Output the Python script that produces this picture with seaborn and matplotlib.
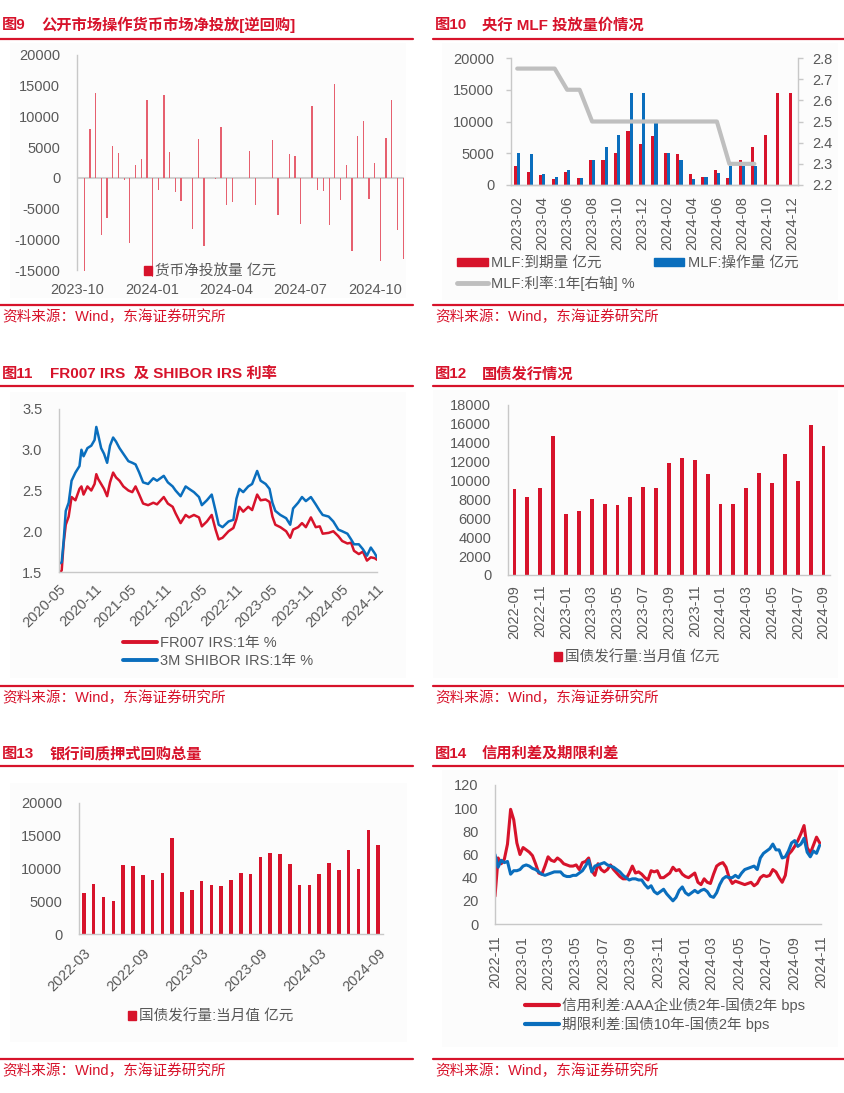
import numpy as np
import pandas as pd
import matplotlib
matplotlib.use('Agg')
import matplotlib.pyplot as plt
import matplotlib.dates as mdates
from matplotlib.lines import Line2D
from matplotlib.patches import Patch, Rectangle
from matplotlib.ticker import StrMethodFormatter
import seaborn as sns

# ---------------- data ----------------
# 图9 weekly net injection (亿元)
omo_start = '2023-10-10'
omo_net = [-15200, 7930, 13750, -9240, -6470, 5160, 4080, -330, -10600, 2070,
           3100, 12660, -16200, -1900, 13480, 4130, -2280, -3750, 0, -8320,
           6360, -11030, -50, -200, 8260, -4460, -3910, 0, 0, 4400,
           -4460, 0, 0, 6090, -6090, 0, 3910, 3530, -7450, 0,
           11740, -2010, -2120, -7720, 15220, -3530, 2070, -11960, 6800, 9240,
           -3480, 2340, -13590, 6470, 12610, -8530, -13150]

# 图10 MLF
mlf_months = pd.period_range('2023-02', '2024-12', freq='M').strftime('%Y-%m').tolist()
mlf_due = [3000, 2000, 1500, 1000, 2000, 1030, 4000, 4000, 5000, 8500, 6500, 7790,
           4990, 4810, 1700, 1250, 2370, 1030, 4010, 5910, 7890, 14500, 14500]
mlf_op = [5000, 4810, 1700, 1250, 2370, 1030, 4010, 5910, 7890, 14500, 14500, 9950,
          5000, 3870, 1000, 1250, 1820, 3000, 3000, 3000, np.nan, np.nan, np.nan]
mlf_rate = [2.75, 2.75, 2.75, 2.75, 2.65, 2.65, 2.50, 2.50, 2.50, 2.50, 2.50, 2.50,
            2.50, 2.50, 2.50, 2.50, 2.50, 2.30, 2.30, 2.30]

# 图11 IRS
irs_dates = ['2020-05-01', '2020-05-15', '2020-05-25', '2020-06-05', '2020-06-20', '2020-07-05',
             '2020-07-25', '2020-08-15', '2020-08-25', '2020-09-05', '2020-09-25', '2020-10-15',
             '2020-11-01', '2020-11-10', '2020-11-20', '2020-12-05', '2020-12-20', '2021-01-05',
             '2021-01-20', '2021-02-05', '2021-02-20', '2021-03-10', '2021-03-30', '2021-04-25',
             '2021-05-15', '2021-06-01', '2021-06-20', '2021-07-10', '2021-08-05', '2021-09-01',
             '2021-09-20', '2021-10-25', '2021-11-15', '2021-12-10', '2021-12-25', '2022-01-20',
             '2022-02-15', '2022-03-05', '2022-03-30', '2022-04-25', '2022-05-10', '2022-06-05',
             '2022-06-30', '2022-07-20', '2022-08-05', '2022-08-25', '2022-09-25', '2022-10-20',
             '2022-11-05', '2022-11-20', '2022-12-10', '2023-01-05', '2023-01-25', '2023-02-20',
             '2023-03-10', '2023-04-05', '2023-04-25', '2023-05-10', '2023-05-25', '2023-06-20',
             '2023-07-20', '2023-08-10', '2023-08-25', '2023-09-20', '2023-10-10', '2023-10-30',
             '2023-11-25', '2023-12-20', '2024-01-10', '2024-01-25', '2024-02-25', '2024-03-20',
             '2024-04-15', '2024-05-05', '2024-06-01', '2024-06-20', '2024-07-05', '2024-07-30',
             '2024-08-20', '2024-09-10', '2024-09-30', '2024-10-20', '2024-11-01']
fr007 = [1.48, 1.52, 1.85, 2.08, 2.18, 2.42, 2.38, 2.52, 2.55, 2.45,
         2.55, 2.50, 2.58, 2.70, 2.64, 2.58, 2.52, 2.43, 2.60, 2.72,
         2.66, 2.62, 2.55, 2.50, 2.48, 2.55, 2.45, 2.34, 2.32, 2.35,
         2.33, 2.42, 2.34, 2.30, 2.22, 2.10, 2.20, 2.17, 2.20, 2.17,
         2.06, 2.12, 2.20, 2.02, 1.90, 1.92, 2.00, 2.04, 2.15, 2.30,
         2.24, 2.30, 2.26, 2.45, 2.38, 2.39, 2.36, 2.18, 2.08, 2.05,
         2.00, 1.92, 2.02, 2.05, 2.10, 2.05, 2.17, 2.05, 2.06, 1.97,
         1.98, 2.00, 1.94, 1.88, 1.85, 1.86, 1.76, 1.72, 1.75, 1.64,
         1.68, 1.67, 1.65]
shibor3m = [1.60, 1.62, 1.88, 2.25, 2.35, 2.62, 2.72, 2.80, 3.00, 2.92,
            3.02, 3.05, 3.12, 3.28, 3.18, 3.02, 2.95, 2.84, 3.05, 3.15,
            3.10, 3.02, 2.95, 2.86, 2.84, 2.82, 2.72, 2.60, 2.58, 2.65,
            2.62, 2.68, 2.60, 2.55, 2.50, 2.43, 2.55, 2.52, 2.48, 2.42,
            2.32, 2.38, 2.45, 2.25, 2.08, 2.05, 2.12, 2.14, 2.40, 2.52,
            2.48, 2.55, 2.58, 2.74, 2.62, 2.58, 2.52, 2.35, 2.25, 2.20,
            2.16, 2.08, 2.28, 2.35, 2.42, 2.37, 2.42, 2.33, 2.25, 2.20,
            2.18, 2.12, 2.02, 2.00, 1.97, 1.90, 1.84, 1.84, 1.78, 1.70,
            1.80, 1.73, 1.68]

# 图12 / 图13 国债发行量 当月值 (亿元), 2022-03 .. 2024-09
bond_months = pd.period_range('2022-03', '2024-09', freq='M').strftime('%Y-%m').tolist()
bond_issue = [6290, 7660, 5580, 5030, 10560, 10360, 9070, 8300, 9250, 14720,
              6420, 6740, 8080, 7520, 7380, 8300, 9320, 9210, 11820, 12420,
              12210, 10730, 7480, 7480, 9210, 10840, 9710, 12810, 9920, 15920, 13620]

# 图14 weekly spreads (bps)
spread_start = '2022-11-01'
credit_spread = [24, 57, 52, 56, 69, 99, 90, 70, 60, 66,
                 64, 62, 59, 52, 44, 43, 50, 58, 55, 54,
                 57, 55, 52, 51, 50, 50, 51, 47, 53, 54,
                 57, 46, 42, 52, 47, 45, 47, 51, 47, 44,
                 41, 39, 39, 44, 50, 44, 45, 43, 40, 38,
                 46, 45, 46, 40, 40, 42, 44, 49, 46, 47,
                 43, 41, 40, 42, 44, 36, 34, 39, 36, 35,
                 43, 50, 52, 53, 49, 40, 35, 37, 36, 35,
                 34, 35, 36, 33, 35, 40, 42, 41, 42, 47,
                 45, 40, 36, 42, 60, 63, 67, 72, 78, 85,
                 66, 61, 68, 75, 70]
term_spread = [60, 49, 55, 53, 54, 43, 46, 46, 47, 50,
               51, 50, 48, 47, 45, 43, 42, 43, 44, 45,
               45, 45, 42, 41, 41, 42, 42, 44, 46, 50,
               55, 45, 50, 51, 52, 53, 51, 50, 49, 47,
               45, 42, 40, 38, 39, 39, 38, 38, 34, 31,
               33, 28, 26, 28, 30, 26, 23, 20, 23, 29,
               32, 27, 25, 27, 29, 27, 29, 30, 28, 24,
               23, 27, 34, 39, 41, 40, 40, 42, 40, 44,
               47, 48, 49, 50, 47, 57, 61, 63, 65, 69,
               64, 64, 57, 58, 63, 70, 72, 67, 69, 74,
               62, 58, 63, 61, 68]

# ---------------- style ----------------
RED = '#D7132B'
BAR9 = '#E6606F'
BLUE = '#0A6EBD'
GRAY = '#BFBFBF'
TXT = '#595959'
AXC = '#C8C8C8'
FS = 10.5
FT = 11
SRC = '资料来源：Wind，东海证券研究所'

sns.set_style('white')
plt.rcParams['font.family'] = ['Liberation Sans', 'Noto Sans CJK SC']
plt.rcParams['axes.unicode_minus'] = False

W, H = 845, 1093


def fx(x):
    return x / W


def fy(y):
    return 1 - y / H


def rect(l, t, r, b):
    return [l / W, 1 - b / H, (r - l) / W, (b - t) / H]


def clean(ax, bottom=True):
    ax.set_facecolor('none')
    ax.grid(False)
    ax.set_xlabel('')
    ax.set_ylabel('')
    ax.spines['top'].set_visible(False)
    ax.spines['right'].set_visible(False)
    ax.spines['bottom'].set_visible(bottom)
    for s in ['left', 'bottom', 'right']:
        ax.spines[s].set_color(AXC)
        ax.spines[s].set_linewidth(1.0)
    ax.tick_params(colors=AXC, labelcolor=TXT, labelsize=FS, length=3.5, width=1)
    ax.tick_params(axis='y', pad=8.5)


def legend_at(ax, handles, x, y, **kw):
    opts = dict(loc='upper left', bbox_to_anchor=(fx(x), fy(y)), bbox_transform=fig.transFigure,
                frameon=False, fontsize=FS, borderpad=0, borderaxespad=0, handletextpad=0.25,
                labelcolor=TXT)
    opts.update(kw)
    return ax.legend(handles=handles, **opts)


def header(x0, x1, num, title, title_x, y_title, y_line, y_src_line, y_src):
    fig.text(fx(x0 + 2), fy(y_title), num, color=RED, fontsize=FT, fontweight='bold', va='center')
    fig.text(fx(title_x), fy(y_title), title, color=RED, fontsize=FT, fontweight='bold', va='center')
    fig.add_artist(Line2D([fx(x0), fx(x1)], [fy(y_line)] * 2, color=RED, lw=1.6))
    fig.add_artist(Line2D([fx(x0), fx(x1)], [fy(y_src_line)] * 2, color=RED, lw=1.6))
    fig.text(fx(x0 + 2), fy(y_src), SRC, color=RED, fontsize=FS, va='center')


fig = plt.figure(figsize=(W / 100, H / 100), dpi=100)
fig.patch.set_facecolor('white')

# faint chart-area backgrounds
for (l, t, r, b) in [(10, 43, 406, 298), (442, 43, 838, 300), (10, 392, 406, 678),
                     (433, 390, 838, 678), (10, 783, 407, 1042), (442, 770, 838, 1047)]:
    fig.add_artist(Rectangle((fx(l), fy(b)), (r - l) / W, (b - t) / H, transform=fig.transFigure,
                             facecolor='#FCFCFC', edgecolor='none', zorder=-10))

LX0, LX1, RX0, RX1 = 0, 413, 433, 845
header(LX0, LX1, '图9', '公开市场操作货币市场净投放[逆回购]', 41, 25, 38.5, 304.5, 317)
header(RX0, RX1, '图10', '央行 MLF 投放量价情况', 482, 25, 38.5, 304.5, 317)
header(LX0, LX1, '图11', 'FR007 IRS  及 SHIBOR IRS 利率', 50, 374, 386, 685.5, 698)
header(RX0, RX1, '图12', '国债发行情况', 482, 374, 386, 685.5, 698)
header(LX0, LX1, '图13', '银行间质押式回购总量', 50, 754, 766, 1059, 1071)
header(RX0, RX1, '图14', '信用利差及期限利差', 482, 754, 766, 1059, 1071)

# ---------------- 图9 ----------------
ax9 = fig.add_axes(rect(77, 55, 404, 270))
d9 = pd.DataFrame({'date': pd.date_range(omo_start, periods=len(omo_net), freq='7D'), 'net': omo_net})
d9['num'] = mdates.date2num(d9['date'])
sns.barplot(data=d9, x='num', y='net', native_scale=True, width=0.22, color=BAR9,
            saturation=1, errorbar=None, linewidth=0, ax=ax9)
for p in ax9.patches:
    p.set_clip_on(False)
clean(ax9, bottom=False)
ax9.axhline(0, color='#D0D0D0', lw=1.5, zorder=0)
ax9.set_ylim(-15000, 20000)
ax9.set_yticks(np.arange(-15000, 20001, 5000))
ax9.yaxis.set_major_formatter(StrMethodFormatter('{x:.0f}'))
ax9.set_xlim(mdates.date2num(pd.Timestamp('2023-10-01')), mdates.date2num(pd.Timestamp('2024-11-06')))
ax9.xaxis.set_major_locator(mdates.MonthLocator(bymonth=[1, 4, 7, 10]))
ax9.xaxis.set_major_formatter(mdates.DateFormatter('%Y-%m'))
ax9.tick_params(axis='x', length=0, pad=9)
legend_at(ax9, [Patch(color=RED, label='货币净投放量 亿元')], 144, 265,
          handlelength=0.55, handleheight=0.55, handletextpad=0.2)

# ---------------- 图10 ----------------
ax10 = fig.add_axes(rect(511, 58, 798, 185))
n10 = len(mlf_months)
d10 = pd.DataFrame({'month': mlf_months * 2,
                    'kind': ['MLF:到期量 亿元'] * n10 + ['MLF:操作量 亿元'] * n10,
                    'value': mlf_due + mlf_op})
sns.barplot(data=d10, x='month', y='value', hue='kind', palette=[RED, BLUE], width=0.5, gap=0,
            saturation=1, errorbar=None, linewidth=0, legend=False, ax=ax10)
clean(ax10)
ax10.set_ylim(0, 20000)
ax10.set_yticks(np.arange(0, 20001, 5000))
ax10.yaxis.set_major_formatter(StrMethodFormatter('{x:.0f}'))
ax10r = ax10.twinx()
sns.lineplot(x=np.arange(len(mlf_rate)), y=mlf_rate, color=GRAY, lw=3, ax=ax10r)
clean(ax10r)
ax10r.spines['left'].set_visible(False)
ax10r.spines['right'].set_visible(True)
ax10r.set_ylim(2.2, 2.8)
ax10r.set_yticks(np.arange(2.2, 2.81, 0.1))
ax10r.yaxis.set_major_formatter(StrMethodFormatter('{x:.1f}'))
ax10r.tick_params(axis='y', pad=7)
ax10.set_xlim(-0.5, n10 - 0.5)
ax10.set_xticks(np.arange(0, n10, 2))
ax10.set_xticklabels(mlf_months[::2], rotation=90)
ax10.set_xticks(np.arange(-0.5, n10 - 1, 2), minor=True)
ax10.tick_params(axis='x', which='major', length=0, pad=8)
ax10.tick_params(axis='x', which='minor', length=4, color=AXC, width=1)
legend_at(ax10, [Patch(color=RED, label='MLF:到期量 亿元'),
                 Line2D([], [], color=GRAY, lw=3.5, label='MLF:利率:1年[右轴] %'),
                 Patch(color=BLUE, label='MLF:操作量 亿元')],
          457, 256, ncol=2, handlelength=2.1, handleheight=0.45, labelspacing=0.35,
          columnspacing=1.3)

# ---------------- 图11 ----------------
ax11 = fig.add_axes(rect(59, 409, 377, 572))
d11 = pd.DataFrame({'date': pd.to_datetime(irs_dates), 'fr': fr007, 'sh': shibor3m})
sns.lineplot(data=d11, x='date', y='fr', color=RED, lw=1.8, ax=ax11)
sns.lineplot(data=d11, x='date', y='sh', color=BLUE, lw=1.8, ax=ax11)
clean(ax11)
ax11.set_ylim(1.5, 3.5)
ax11.set_yticks(np.arange(1.5, 3.51, 0.5))
ax11.yaxis.set_major_formatter(StrMethodFormatter('{x:.1f}'))
ax11.set_xlim(pd.Timestamp('2020-05-01'), pd.Timestamp('2024-11-01'))
ax11.xaxis.set_major_locator(mdates.MonthLocator(bymonth=[5, 11]))
ax11.xaxis.set_major_formatter(mdates.DateFormatter('%Y-%m'))
plt.setp(ax11.get_xticklabels(), rotation=45, ha='right', rotation_mode='anchor')
ax11.tick_params(axis='x', pad=4)
legend_at(ax11, [Line2D([], [], color=RED, lw=2.8, label='FR007 IRS:1年 %'),
                 Line2D([], [], color=BLUE, lw=2.8, label='3M SHIBOR IRS:1年 %')],
          123, 636, handlelength=2.3, labelspacing=0.3)

# ---------------- 图12 ----------------
ax12 = fig.add_axes(rect(508, 405, 830, 575))
m12 = bond_months[6:]
sns.barplot(x=m12, y=bond_issue[6:], color=RED, width=0.3, saturation=1, errorbar=None,
            linewidth=0, ax=ax12)
clean(ax12)
ax12.set_ylim(0, 18000)
ax12.set_yticks(np.arange(0, 18001, 2000))
ax12.yaxis.set_major_formatter(StrMethodFormatter('{x:.0f}'))
ax12.set_xlim(-0.5, len(m12) - 0.5)
ax12.set_xticks(np.arange(0, len(m12), 2))
ax12.set_xticklabels(m12[::2], rotation=90)
ax12.set_xticks(np.arange(-0.5, len(m12) - 1, 2), minor=True)
ax12.tick_params(axis='x', which='major', length=0, pad=7)
ax12.tick_params(axis='x', which='minor', length=4, color=AXC, width=1)
legend_at(ax12, [Patch(color=RED, label='国债发行量:当月值 亿元')], 554, 650,
          handlelength=0.55, handleheight=0.55, handletextpad=0.2)

# ---------------- 图13 ----------------
ax13 = fig.add_axes(rect(79, 803, 383, 934))
sns.barplot(x=bond_months, y=bond_issue, color=RED, width=0.36, saturation=1, errorbar=None,
            linewidth=0, ax=ax13)
clean(ax13)
ax13.set_ylim(0, 20000)
ax13.set_yticks(np.arange(0, 20001, 5000))
ax13.yaxis.set_major_formatter(StrMethodFormatter('{x:.0f}'))
ax13.set_xlim(-0.5, len(bond_months) - 0.5)
ax13.set_xticks(np.arange(0, len(bond_months), 6))
ax13.set_xticklabels(bond_months[::6], rotation=45, ha='right', rotation_mode='anchor')
ax13.set_xticks(np.arange(-0.5, len(bond_months) - 1, 6), minor=True)
ax13.tick_params(axis='x', which='major', length=0, pad=9)
ax13.tick_params(axis='x', which='minor', length=4, color=AXC, width=1)
legend_at(ax13, [Patch(color=RED, label='国债发行量:当月值 亿元')], 128, 1009,
          handlelength=0.55, handleheight=0.55, handletextpad=0.2)

# ---------------- 图14 ----------------
ax14 = fig.add_axes(rect(495, 785, 821, 924))
d14 = pd.DataFrame({'date': pd.date_range(spread_start, periods=len(credit_spread), freq='7D'),
                    'credit': credit_spread, 'term': term_spread})
sns.lineplot(data=d14, x='date', y='credit', color=RED, lw=2.2, ax=ax14)
sns.lineplot(data=d14, x='date', y='term', color=BLUE, lw=2.2, ax=ax14)
clean(ax14)
ax14.set_ylim(0, 120)
ax14.set_yticks(np.arange(0, 121, 20))
ax14.set_xlim(pd.Timestamp('2022-11-01'), pd.Timestamp('2024-11-01'))
ax14.xaxis.set_major_locator(mdates.MonthLocator(bymonth=[1, 3, 5, 7, 9, 11]))
ax14.xaxis.set_major_formatter(mdates.DateFormatter('%Y-%m'))
plt.setp(ax14.get_xticklabels(), rotation=90)
ax14.tick_params(axis='x', pad=5)
legend_at(ax14, [Line2D([], [], color=RED, lw=3, label='信用利差:AAA企业债2年-国债2年 bps'),
                 Line2D([], [], color=BLUE, lw=3, label='期限利差:国债10年-国债2年 bps')],
          525, 998, handlelength=2.3, labelspacing=0.27)

fig.savefig('out.png', dpi=100)
